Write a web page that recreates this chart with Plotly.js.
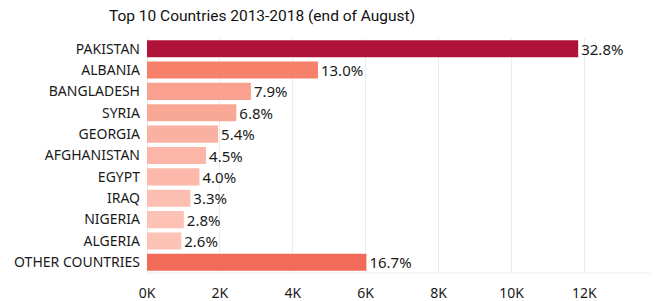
<!DOCTYPE html>
<html>
<head>
<meta charset="utf-8">
<script src="https://cdn.plot.ly/plotly-3.0.1.min.js"></script>
<style>html,body{margin:0;padding:0;background:#fff;}#chart{width:655px;height:301px;}</style>
</head>
<body>
<div id="chart"></div>
<script>
const countries = ["PAKISTAN","ALBANIA","BANGLADESH","SYRIA","GEORGIA","AFGHANISTAN","EGYPT","IRAQ","NIGERIA","ALGERIA","OTHER COUNTRIES"];
const counts = [11830, 4690, 2850, 2450, 1950, 1620, 1440, 1190, 1010, 940, 6020];
const shares = ["32.8%","13.0%","7.9%","6.8%","5.4%","4.5%","4.0%","3.3%","2.8%","2.6%","16.7%"];
const tickValues = [0, 2000, 4000, 6000, 8000, 10000, 12000];
const tickLabels = ["0K","2K","4K","6K","8K","10K","12K"];

const trace = {
  type: "bar",
  orientation: "h",
  x: counts,
  y: countries,
  text: shares,
  textposition: "outside",
  constraintext: "none",
  cliponaxis: false,
  textfont: {family: "Noto Sans, sans-serif", size: 15, color: "#1a1a1a"},
  marker: {
    color: counts,
    cmin: Math.min(...counts),
    cmax: Math.max(...counts),
    colorscale: [[0, "#fdc2b6"], [0.175, "#f9a18e"], [0.345, "#f7806a"], [0.466, "#f26b58"], [1, "#b0133a"]],
    line: {width: 0}
  },
  hoverinfo: "none"
};

const layout = {
  width: 655, height: 301,
  margin: {l: 147, r: 5, t: 38, b: 28},
  paper_bgcolor: "#fff", plot_bgcolor: "#fff",
  bargap: 0.2,
  showlegend: false,
  title: {text: "Top 10 Countries 2013-2018 (end of August)", font: {family: "Roboto, sans-serif", size: 15.5, color: "#111"}, xref: "container", x: 0.4, xanchor: "center", yref: "container", y: 0.965, yanchor: "top"},
  font: {family: "Noto Sans, sans-serif", color: "#1a1a1a"},
  xaxis: {
    range: [0, 13800],
    tickvals: tickValues, ticktext: tickLabels,
    showgrid: true, gridcolor: "#ececec", gridwidth: 1,
    zeroline: true, zerolinecolor: "#ececec", zerolinewidth: 1,
    showline: false,
    ticks: "", ticklabelstandoff: 10,
    tickfont: {family: "Noto Sans, sans-serif", size: 14, color: "#1a1a1a"},
    fixedrange: true
  },
  yaxis: {
    autorange: "reversed",
    ticks: "", ticklabelstandoff: 6,
    tickfont: {family: "Noto Sans, sans-serif", size: 14, color: "#1a1a1a"},
    showgrid: false, showline: false, zeroline: false,
    fixedrange: true
  },
  shapes: [{type: "line", xref: "paper", yref: "paper", x0: 0, x1: 1, y0: 0, y1: 0, line: {color: "#ececec", width: 1}}]
};

Plotly.newPlot("chart", [trace], layout, {displayModeBar: false, staticPlot: true});
</script>
</body>
</html>
